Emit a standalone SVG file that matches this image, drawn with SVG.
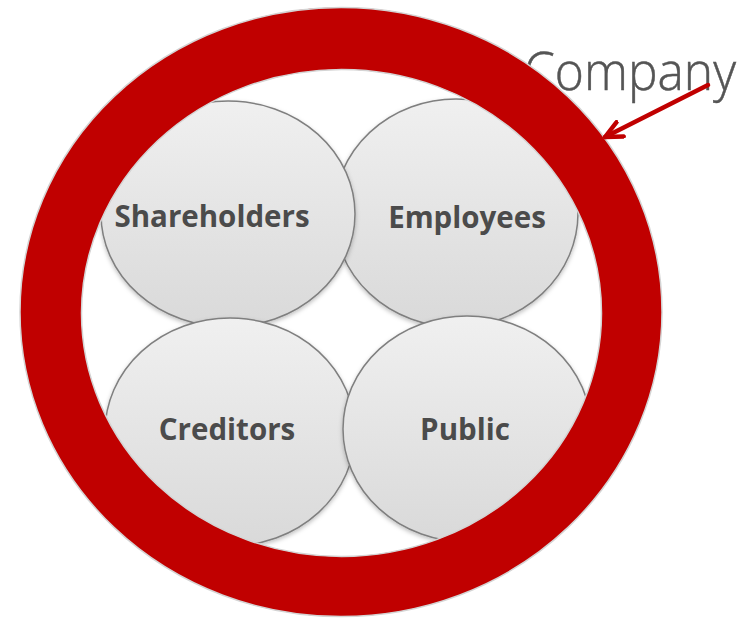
<svg xmlns="http://www.w3.org/2000/svg" width="747" height="618" viewBox="0 0 747 618">
  <style>
    .bubble { stroke: #7f7f7f; stroke-width: 1.5; fill: url(#bubbleFill); filter: url(#softShadow); }
    .label { font-family: "Open Sans", "Noto Sans", "DejaVu Sans", sans-serif; font-weight: 700; font-size: 29.5px; fill: #4b4b4b; text-anchor: middle; }
    .title { font-family: "Open Sans", "Noto Sans", "DejaVu Sans", sans-serif; font-weight: 300; font-size: 53px; fill: #555555; stroke: #555555; stroke-width: 0.5; }
    .ring { fill: #c00000; fill-rule: evenodd; stroke: #d4d4d4; stroke-width: 1.5; }
    .pointer { stroke: #c00000; stroke-width: 4.5; fill: none; stroke-linecap: round; }
  </style>
  <defs>
    <linearGradient id="bubbleFill" x1="0" y1="0" x2="0" y2="1">
      <stop offset="0" stop-color="#f0f0f0"/>
      <stop offset="1" stop-color="#d9d9d9"/>
    </linearGradient>
    <filter id="softShadow" x="-10%" y="-10%" width="120%" height="125%">
      <feDropShadow dx="0" dy="2" stdDeviation="2" flood-color="#000" flood-opacity="0.25"/>
    </filter>
    <marker id="openHead" viewBox="0 0 10 10" refX="9.5" refY="5" markerWidth="20" markerHeight="20" markerUnits="userSpaceOnUse" orient="auto">
      <path d="M1,1 L9.5,5 L1,9" fill="none" stroke="#c00000" stroke-width="2.2" stroke-linecap="round" stroke-linejoin="round"/>
    </marker>
  </defs>

  <rect width="747" height="618" fill="#ffffff"/>

  <!-- label of the outer ring, partly covered by it -->
  <text class="title" x="524" y="90" textLength="212" lengthAdjust="spacingAndGlyphs">Company</text>

  <!-- stakeholder bubbles -->
  <g id="employees">
    <ellipse class="bubble" cx="456" cy="213" rx="122" ry="114"/>
    <text class="label" x="467" y="228">Employees</text>
  </g>
  <g id="shareholders">
    <ellipse class="bubble" cx="228" cy="214" rx="127" ry="113"/>
    <text class="label" x="212" y="227">Shareholders</text>
  </g>
  <g id="creditors">
    <ellipse class="bubble" cx="230" cy="432" rx="125" ry="114"/>
    <text class="label" x="227" y="440">Creditors</text>
  </g>
  <g id="public">
    <ellipse class="bubble" cx="467" cy="429" rx="124" ry="113"/>
    <text class="label" x="465" y="440">Public</text>
  </g>

  <!-- company ring enclosing the stakeholders -->
  <g id="company">
    <path class="ring" d="M20,312 A321,304.5 0 1 0 662,312 A321,304.5 0 1 0 20,312 Z M81.5,313 A260,243.5 0 1 0 601.5,313 A260,243.5 0 1 0 81.5,313 Z"/>
  </g>

  <!-- pointer from the label to the ring -->
  <g id="connectors">
    <line class="pointer" x1="708" y1="85" x2="605" y2="137" marker-end="url(#openHead)"/>
  </g>
</svg>
